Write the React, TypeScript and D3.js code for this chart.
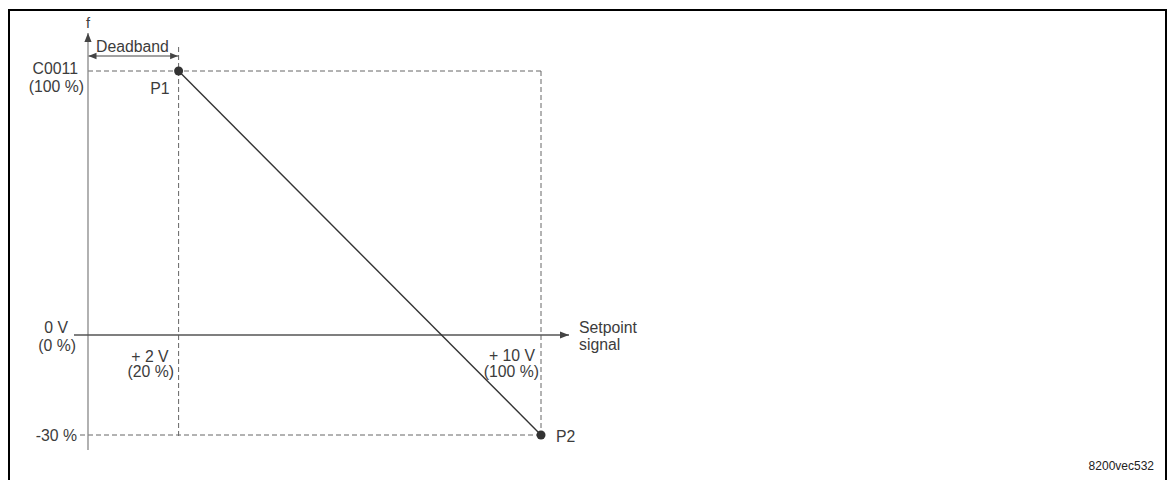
import React from "react";
import * as d3 from "d3";

const setpointVolts = [0, 2, 10];
const setpointPercent = [0, 20, 100];
const freqLevels = [100, 0, -30];
const curvePoints = [
  { name: "P1", volt: 2, freq: 100 },
  { name: "P2", volt: 10, freq: -30 },
];
const yLabels = [["C0011", "(100 %)"], ["0 V", "(0 %)"], ["-30 %"]];
const xLabels = [["+ 2 V", "(20 %)"], ["+ 10 V", "(100 %)"]];
const figureId = "8200vec532";

const W = 1174;
const H = 480;
const FONT = "'Liberation Sans', Arial, Helvetica, sans-serif";
const TXT = "#3c3c3c";

export default function App() {
  const x = d3.scaleLinear().domain([0, 10]).range([88, 541]);
  const y = d3.scaleLinear().domain([-30, 0, 100]).range([435, 335, 71]);

  const line = d3
    .line<{ volt: number; freq: number }>()
    .x((d) => x(d.volt))
    .y((d) => y(d.freq));

  const x0 = x(setpointVolts[0]);
  const xDb = x(setpointVolts[1]);
  const xMax = x(setpointVolts[2]);
  const yTop = y(freqLevels[0]);
  const yZero = y(freqLevels[1]);
  const yBot = y(freqLevels[2]);
  const fs = 15.8;
  const dash = "5,3";
  const dashCol = "#666";

  return (
    <svg
      width={W}
      height={H}
      style={{ position: "absolute", left: 0, top: 0, background: "#fff" }}
      fontFamily={FONT}
    >
      <defs>
        <marker id="ah" viewBox="0 0 10 10" refX="10" refY="5" markerWidth="9" markerHeight="9" markerUnits="userSpaceOnUse" orient="auto-start-reverse">
          <path d="M0,1 L10,5 L0,9 Z" fill="#444" />
        </marker>
        <marker id="ah2" viewBox="0 0 10 10" refX="10" refY="5" markerWidth="8" markerHeight="8" markerUnits="userSpaceOnUse" orient="auto-start-reverse">
          <path d="M0,1 L10,5 L0,9 Z" fill="#444" />
        </marker>
      </defs>
      {/* frame */}
      <rect x={9} y={10} width={1157} height={490} fill="none" stroke="#000" strokeWidth={2} />

      {/* dashed guides */}
      <line x1={x0} x2={xMax} y1={yTop} y2={yTop} stroke={dashCol} strokeDasharray={dash} strokeWidth={1} />
      <line x1={80} x2={xMax} y1={yBot} y2={yBot} stroke={dashCol} strokeDasharray={dash} strokeWidth={1} />
      <line x1={xDb} x2={xDb} y1={47} y2={yBot + 3} stroke={dashCol} strokeDasharray={dash} strokeWidth={1} />
      <line x1={xMax} x2={xMax} y1={yTop} y2={yBot} stroke={dashCol} strokeDasharray={dash} strokeWidth={1} />

      {/* axes */}
      <line x1={x0} x2={x0} y1={450} y2={33} stroke="#888" strokeWidth={1.3} markerEnd="url(#ah)" />
      <line x1={74} x2={569} y1={yZero} y2={yZero} stroke="#555" strokeWidth={1.3} markerEnd="url(#ah)" />

      {/* deadband arrow */}
      <line x1={x0 + 0.5} x2={xDb - 0.5} y1={56} y2={56} stroke="#444" strokeWidth={1.2} markerStart="url(#ah2)" markerEnd="url(#ah2)" />
      <text x={96} y={51.5} fontSize={fs} fill={TXT}>Deadband</text>

      {/* f label */}
      <text x={86} y={28} fontSize={14.5} fill={TXT}>f</text>

      {/* curve */}
      <path d={line(curvePoints) || ""} fill="none" stroke="#333" strokeWidth={1.4} />
      {curvePoints.map((p) => (
        <circle key={p.name} cx={x(p.volt)} cy={y(p.freq)} r={4.5} fill="#333" />
      ))}
      <text x={xDb - 9} y={94} fontSize={fs} fill={TXT} textAnchor="end">{curvePoints[0].name}</text>
      <text x={xMax + 15} y={442} fontSize={fs} fill={TXT}>{curvePoints[1].name}</text>

      {/* y labels */}
      <text x={78} y={74} fontSize={fs} fill={TXT} textAnchor="end">{yLabels[0][0]}</text>
      <text x={84} y={92} fontSize={fs} fill={TXT} textAnchor="end">{yLabels[0][1]}</text>
      <text x={68} y={yZero - 2} fontSize={fs} fill={TXT} textAnchor="end">{yLabels[1][0]}</text>
      <text x={76} y={yZero + 16} fontSize={fs} fill={TXT} textAnchor="end">{yLabels[1][1]}</text>
      <text x={77} y={yBot + 6} fontSize={fs} fill={TXT} textAnchor="end">{yLabels[2][0]}</text>

      {/* x labels */}
      <text x={xDb - 10} y={362} fontSize={fs} fill={TXT} textAnchor="end">{xLabels[0][0]}</text>
      <text x={xDb - 4.5} y={377} fontSize={fs} fill={TXT} textAnchor="end">{xLabels[0][1]}</text>
      <text x={xMax - 6} y={361} fontSize={fs} fill={TXT} textAnchor="end">{xLabels[1][0]}</text>
      <text x={xMax - 2} y={377} fontSize={fs} fill={TXT} textAnchor="end">{xLabels[1][1]}</text>
      <text x={579} y={333} fontSize={fs} fill={TXT}>Setpoint</text>
      <text x={579} y={350} fontSize={fs} fill={TXT}>signal</text>

      {/* figure id */}
      <text x={1154} y={470} fontSize={12} fill="#222" textAnchor="end" fontFamily="'Liberation Sans Narrow', 'Arial Narrow', sans-serif">{figureId}</text>
    </svg>
  );
}
